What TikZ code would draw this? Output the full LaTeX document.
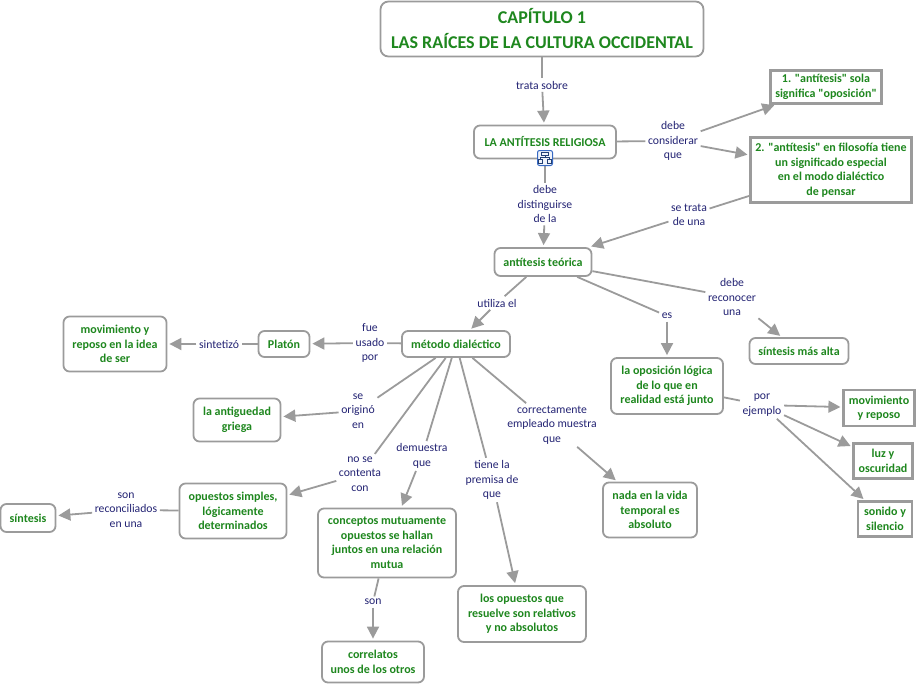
\documentclass[tikz,border=0pt]{standalone}
\usepackage{fontspec}
\setmainfont{Carlito}
\usetikzlibrary{arrows.meta}

\definecolor{cgreen}{RGB}{30,135,30}
\definecolor{lnavy}{RGB}{35,35,115}
\definecolor{linegray}{RGB}{155,155,155}
\definecolor{iconblue}{RGB}{55,105,195}
\newcommand\qt{\textquotedbl}

\tikzset{
    concept/.style={draw=linegray, line width=1.8pt, rounded corners=6pt, fill=white,
        text=cgreen, align=center, inner sep=2pt,
        font=\bfseries\fontsize{12}{14.5}\selectfont},
    sqconcept/.style={concept, rounded corners=0pt, line width=2.2pt},
    phrase/.style={text=lnavy, align=center, inner sep=2.5pt,
        font=\fontsize{11.7}{14.5}\selectfont},
    link/.style={draw=linegray, line width=1.8pt},
    arrow/.style={link, -{Triangle[length=12pt,width=12pt]}, shorten >=2pt},
}

\begin{document}
\begin{tikzpicture}[x=1pt, y=-1pt]
    \useasboundingbox (0,0) rectangle (918,685);

    % concepts
    \node [concept, rounded corners=8pt, minimum width=323, minimum height=55,
        font=\bfseries\fontsize{18}{25}\selectfont] (cap) at (542,29)
        {CAPÍTULO 1\\LAS RAÍCES DE LA CULTURA OCCIDENTAL};
    \node [concept, minimum width=142, minimum height=33] (religiosa) at (545,142)
        {LA ANTÍTESIS RELIGIOSA};
    \node [sqconcept, minimum width=111, minimum height=33] (sola) at (826,87)
        {1. \qt antítesis\qt{} sola\\significa \qt oposición\qt};
    \node [sqconcept, minimum width=161, minimum height=65] (filosofia) at (831,170)
        {2. \qt antítesis\qt{} en filosofía tiene\\un significado especial\\en el modo dialéctico\\de pensar};
    \node [concept, minimum width=97, minimum height=28] (teorica) at (543,262) {antítesis teórica};
    \node [concept, minimum width=108, minimum height=26] (metodo) at (456,344) {método dialéctico};
    \node [concept, minimum width=51, minimum height=26] (platon) at (284,344) {Platón};
    \node [concept, minimum width=103, minimum height=55] (idea) at (115,344)
        {movimiento y\\reposo en la idea\\de ser};
    \node [concept, minimum width=87, minimum height=43] (griega) at (237,420)
        {la antiguedad\\griega};
    \node [concept, minimum width=107, minimum height=55] (simples) at (233,511)
        {opuestos simples,\\lógicamente\\determinados};
    \node [concept, minimum width=55, minimum height=28] (sintesis) at (28,518) {síntesis};
    \node [concept, minimum width=138, minimum height=69] (mutuos) at (387,543)
        {conceptos mutuamente\\opuestos se hallan\\juntos en una relación\\mutua};
    \node [concept, minimum width=102, minimum height=41] (correlatos) at (373,662)
        {correlatos\\unos de los otros};
    \node [concept, minimum width=128, minimum height=56] (relativos) at (522,614)
        {los opuestos que\\resuelve son relativos\\y no absolutos};
    \node [concept, minimum width=94, minimum height=55] (nada) at (650,510)
        {nada en la vida\\temporal es\\absoluto};
    \node [concept, minimum width=99, minimum height=26] (alta) at (799,351) {síntesis más alta};
    \node [concept, minimum width=112, minimum height=56] (oposicion) at (667,386)
        {la oposición lógica\\de lo que en\\realidad está junto};
    \node [sqconcept, minimum width=71, minimum height=36] (movrep) at (879,408)
        {movimiento\\y reposo};
    \node [sqconcept, minimum width=59, minimum height=35] (luz) at (883,461)
        {luz y\\oscuridad};
    \node [sqconcept, minimum width=54, minimum height=35] (sonido) at (885,519)
        {sonido y\\silencio};

    % linking phrases
    \node [phrase] (trata) at (542,85) {trata sobre};
    \node [phrase] (considerar) at (673,141) {debe\\considerar\\que};
    \node [phrase] (setrata) at (689,215) {se trata\\de una};
    \node [phrase] (distinguirse) at (545,204) {debe\\distinguirse\\de la};
    \node [phrase] (utiliza) at (497,303) {utiliza el};
    \node [phrase] (usado) at (370,343) {fue\\usado\\por};
    \node [phrase] (sintetizo) at (219,344) {sintetizó};
    \node [phrase] (origino) at (358,411) {se\\originó\\en};
    \node [phrase] (contenta) at (360,474) {no se\\contenta\\con};
    \node [phrase] (reconciliados) at (126,510) {son\\reconciliados\\en una};
    \node [phrase] (demuestra) at (422,456) {demuestra\\que};
    \node [phrase] (son) at (373,602) {son};
    \node [phrase] (premisa) at (492,480) {tiene la\\premisa de\\que};
    \node [phrase] (empleado) at (552,425) {correctamente\\empleado muestra\\que};
    \node [phrase] (reconocer) at (732,297) {debe\\reconocer\\una};
    \node [phrase] (es) at (667,316) {es};
    \node [phrase] (ejemplo) at (762,405) {por\\ejemplo};

    % connectors
    \draw [link] (cap) -- (trata);
    \draw [arrow] (trata) -- (religiosa);
    \draw [link] (religiosa) -- (considerar);
    \draw [arrow] (considerar) -- (sola);
    \draw [arrow] (considerar) -- (filosofia);
    \draw [link] (filosofia) -- (setrata);
    \draw [arrow] (setrata) -- (teorica);
    \draw [link] (religiosa) -- (distinguirse);
    \draw [arrow] (distinguirse) -- (teorica);
    \draw [link] (teorica) -- (utiliza);
    \draw [arrow] (utiliza) -- (metodo);
    \draw [link] (teorica) -- (reconocer);
    \draw [arrow] (reconocer) -- (alta);
    \draw [link] (teorica) -- (es);
    \draw [arrow] (es) -- (oposicion);
    \draw [link] (oposicion) -- (ejemplo);
    \draw [arrow] (ejemplo) -- (movrep);
    \draw [arrow] (ejemplo) -- (luz);
    \draw [arrow] (ejemplo) -- (sonido);
    \draw [link] (metodo) -- (usado);
    \draw [arrow] (usado) -- (platon);
    \draw [link] (platon) -- (sintetizo);
    \draw [arrow] (sintetizo) -- (idea);
    \draw [link] (metodo) -- (origino);
    \draw [arrow] (origino) -- (griega);
    \draw [link] (metodo) -- (contenta);
    \draw [arrow] (contenta) -- (simples);
    \draw [link] (simples) -- (reconciliados);
    \draw [arrow] (reconciliados) -- (sintesis);
    \draw [link] (metodo) -- (demuestra);
    \draw [arrow] (demuestra) -- (mutuos);
    \draw [link] (mutuos) -- (son);
    \draw [arrow] (son) -- (correlatos);
    \draw [link] (metodo) -- (premisa);
    \draw [arrow] (premisa) -- (relativos);
    \draw [link] (metodo) -- (empleado);
    \draw [arrow] (empleado) -- (nada);

    % nested map icon
    \node [draw=iconblue, line width=1pt, fill=iconblue!8, rounded corners=2pt,
        minimum size=15, inner sep=0pt] (icon) at (545,158) {};
    \draw [iconblue!60!black, line width=0.6pt]
        (541.5,152) rectangle (548.5,155)
        (545,155) -- (545,157) (540.5,157) -- (549.5,157)
        (540.5,157) -- (540.5,159) (549.5,157) -- (549.5,159)
        (538.5,159) rectangle (542.5,163) (547.5,159) rectangle (551.5,163);
\end{tikzpicture}
\end{document}
